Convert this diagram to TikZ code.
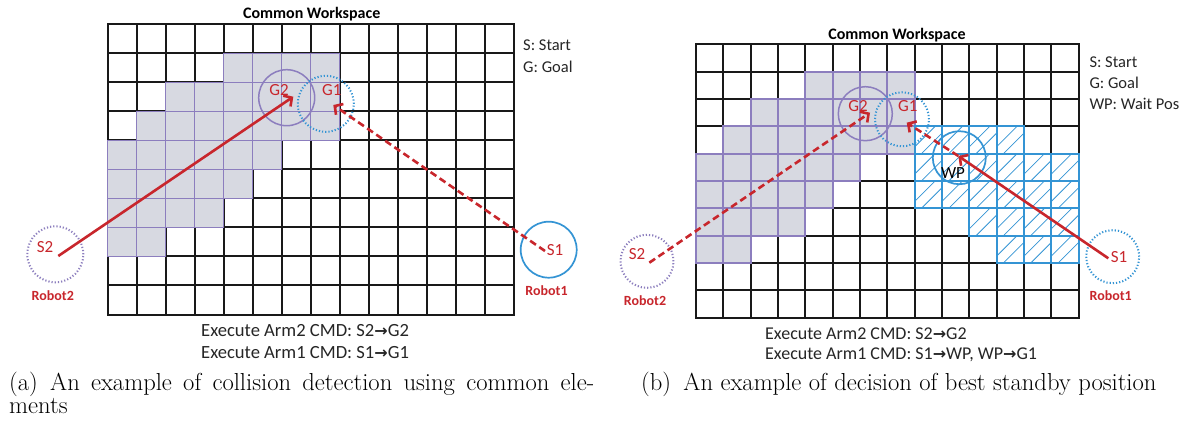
\documentclass[tikz,border=0pt]{standalone}
\usepackage{fontspec}
\newfontfamily\calibri{Carlito}
\newfontfamily\dejavu{DejaVu Sans}
\usetikzlibrary{arrows.meta}
\definecolor{labred}{RGB}{200,38,44}
\definecolor{cellpurple}{RGB}{140,126,190}
\definecolor{cellgray}{RGB}{215,217,225}
\definecolor{wpblue}{RGB}{52,148,212}
\newcommand\arr{{\dejavu\bfseries\fontsize{16}{16}\selectfont →}}
\tikzset{
  gridline/.style={line width=2pt, draw=black!90, line cap=rect},
  shadefill/.style={fill=cellgray},
  shadeedge/.style={draw=cellpurple, line width=1.9pt},
  blueedge/.style={draw=wpblue, line width=1.9pt},
  hatchline/.style={draw=wpblue, line width=0.8pt},
  goalring/.style={circle, draw=cellpurple, line width=1.5pt, inner sep=0pt},
  wpring/.style={circle, draw=wpblue, line width=1.7pt, inner sep=0pt},
  dotring/.style={circle, line width=2pt, dash pattern=on 1.2pt off 2pt, inner sep=0pt},
  redlab/.style={text=labred, font=\calibri\fontsize{17}{17}\selectfont, inner sep=0pt},
  blacklab/.style={text=black, font=\calibri\fontsize{17}{17}\selectfont, inner sep=0pt},
  robotlab/.style={text=labred, font=\calibri\bfseries\fontsize{14}{14}\selectfont, inner sep=0pt},
  wstitle/.style={font=\calibri\bfseries\fontsize{16}{16}\selectfont, inner sep=0pt, anchor=base},
  legendtxt/.style={font=\calibri\fontsize{16.5}{16.5}\selectfont, inner sep=0pt, anchor=base west, text=black!85},
  cmdtxt/.style={font=\calibri\fontsize{18}{18}\selectfont, inner sep=0pt, anchor=base west, text=black!85},
  captxt/.style={font=\fontsize{24.6}{28}\selectfont, inner sep=0pt, anchor=base west},
  pathsolid/.style={draw=labred, line width=2.6pt, -{Straight Barb[length=6pt,width=13pt]}},
  pathdash/.style={pathsolid, dash pattern=on 7pt off 4pt}
}
\newcommand\wsgrid[3]{%
  \foreach \i in {0,...,14} \draw[gridline] ({#1+\i*#3},#2) -- ({#1+\i*#3},{#2+10*#3});
  \foreach \j in {0,...,10} \draw[gridline] (#1,{#2+\j*#3}) -- ({#1+14*#3},{#2+\j*#3});
  \foreach \r/\a/\b in {1/4/7,2/2/7,3/1/7,4/0/5,5/0/4,6/0/3,7/0/1}
    \foreach \c in {\a,...,\b}
      \fill[shadefill] ({#1+\c*#3},{#2+\r*#3}) rectangle ++(#3,#3);
  \foreach \r/\a/\b in {1/4/7,2/2/7,3/1/7,4/0/5,5/0/4,6/0/3,7/0/1}
    \foreach \c in {\a,...,\b}
      \draw[shadeedge] ({#1+\c*#3},{#2+\r*#3}) rectangle ++(#3,#3);
}
\begin{document}
\begin{tikzpicture}[x=1pt,y=-1pt]
\useasboundingbox[fill=white] (0,0) rectangle (1191,430);

% ---------------- panel (a) ----------------
\wsgrid{107.5}{24.5}{29}
\node[wstitle] (ta) at (311.7,18.5) {Common Workspace};
\node[legendtxt] (la1) at (523,50.7) {S: Start};
\node[legendtxt] (la2) at (523,72.3) {G: Goal};

\node[goalring, minimum size=56pt] (ga2) at (286.7,97.7) {};
\node[dotring, draw=wpblue, minimum size=56pt] (ga1) at (325.8,103.8) {};
\node[dotring, draw=cellpurple, minimum size=56pt] (sa2) at (55.3,254.3) {};
\node[wpring, minimum size=56pt] (sa1) at (548.7,249.7) {};

\coordinate (sa2p) at (58.3,256);
\coordinate (ga2p) at (293.3,96.7);
\coordinate (sa1p) at (545,251);
\coordinate (ga1p) at (333.3,105);
\draw[pathsolid] (sa2p) -- (ga2p);
\draw[pathdash] (sa1p) -- (ga1p);

\node[redlab] (lga2) at (279,90) {G2};
\node[redlab] (lga1) at (331.7,90) {G1};
\node[redlab] (lsa2) at (45,247) {S2};
\node[redlab] (lsa1) at (555,250) {S1};
\node[robotlab] (ra2) at (52.8,295.7) {Robot2};
\node[robotlab] (ra1) at (546.5,290.5) {Robot1};

\node[cmdtxt, font=\calibri\fontsize{18.6}{18.6}\selectfont] (ca1) at (201,336) {Execute Arm2 CMD: S2\arr G2};
\node[cmdtxt, font=\calibri\fontsize{18.6}{18.6}\selectfont] (ca2) at (201,358) {Execute Arm1 CMD: S1\arr G1};

\node[captxt] (capa1) at (9,390) {\makebox[585pt][s]{(a)\hspace{0.5em}An example of collision detection using common ele-}};
\node[captxt] (capa2) at (9,413) {ments};

% ---------------- panel (b) ----------------
\wsgrid{696}{44.3}{27.33}
\foreach \r/\a/\b in {3/8/11,4/8/13,5/8/13,6/10/13,7/11/13}
  \foreach \c in {\a,...,\b} {
    \pgfmathsetmacro\xo{696+\c*27.33}
    \pgfmathsetmacro\yo{44.3+\r*27.33}
    \begin{scope}
      \clip (\xo,\yo) rectangle ++(27.33,27.33);
      \fill[white] (\xo,\yo) rectangle ++(27.33,27.33);
      \foreach \k in {-0.25,0.25}
        \draw[hatchline] ({\xo+(\k-0.5)*27.33},{\yo+1.5*27.33}) -- ({\xo+(\k+1.5)*27.33},{\yo-0.5*27.33});
    \end{scope}
  }
\foreach \r/\a/\b in {3/8/11,4/8/13,5/8/13,6/10/13,7/11/13}
  \foreach \c in {\a,...,\b}
    \draw[blueedge] ({696+\c*27.33},{44.3+\r*27.33}) rectangle ++(27.33,27.33);

\node[wstitle] (tb) at (897,40) {Common Workspace};
\node[legendtxt] (lb1) at (1089.3,67.7) {S: Start};
\node[legendtxt] (lb2) at (1089.3,88.3) {G: Goal};
\node[legendtxt] (lb3) at (1089.3,109.3) {WP: Wait Pos};

\node[goalring, minimum size=54pt] (gb2) at (865.3,113.7) {};
\node[dotring, draw=wpblue, minimum size=54pt] (gb1) at (902,119.3) {};
\node[wpring, minimum size=53pt] (wpb) at (959.3,157.7) {};
\node[dotring, draw=cellpurple, minimum size=53pt] (sb2) at (647,261.3) {};
\node[dotring, draw=wpblue, minimum size=53pt] (sb1) at (1112.7,256.7) {};

\coordinate (sb2p) at (649.3,262.7);
\coordinate (gb2p) at (870,112.7);
\coordinate (sb1p) at (1108.3,258.3);
\coordinate (wpbp) at (958.3,156);
\coordinate (gb1p) at (906.7,122.7);
\draw[pathdash] (sb2p) -- (gb2p);
\draw[pathsolid] (sb1p) -- (wpbp);
\draw[pathdash] (wpbp) -- (gb1p);

\node[redlab] (lgb2) at (858,106) {G2};
\node[redlab] (lgb1) at (907.7,106) {G1};
\node[blacklab] (lwp) at (953,173.3) {WP};
\node[redlab] (lsb2) at (637,254.5) {S2};
\node[redlab] (lsb1) at (1119,257.5) {S1};
\node[robotlab] (rb2) at (645,300.5) {Robot2};
\node[robotlab] (rb1) at (1110.7,296) {Robot1};

\node[cmdtxt] (cb1) at (765,339) {Execute Arm2 CMD: S2\arr G2};
\node[cmdtxt] (cb2) at (765,359) {Execute Arm1 CMD: S1\arr WP, WP\arr G1};

\node[captxt] (capb) at (641,390) {(b)\hspace{0.5em}An example of decision of best standby position};
\end{tikzpicture}
\end{document}
